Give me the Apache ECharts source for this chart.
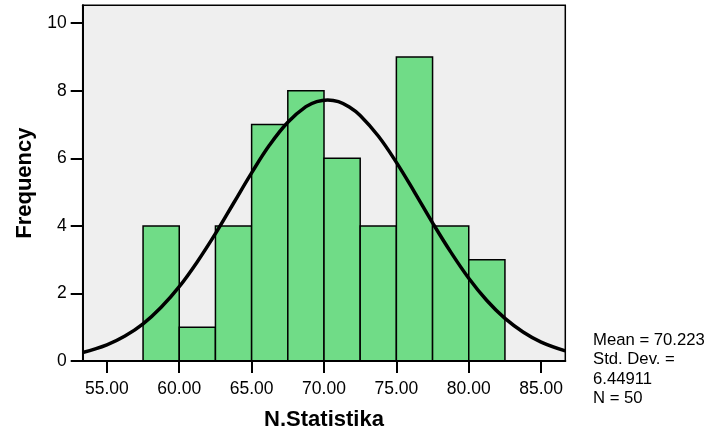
<!DOCTYPE html>
<html>
<head>
<meta charset="utf-8">
<script src="https://cdn.jsdelivr.net/npm/echarts@6/dist/echarts.min.js"></script>
<style>
  html, body { margin: 0; padding: 0; background: #fff; }
  #chart { width: 709px; height: 436px; }
</style>
</head>
<body>
<div id="chart"></div>
<script>
// histogram bins (width 2.5) and their counts
const binStarts = [57.5, 60, 62.5, 65, 67.5, 70, 72.5, 75, 77.5, 80]
const binWidth = 2.5
const counts = [4, 1, 4, 7, 8, 6, 4, 9, 4, 3]

// normal curve
const curveX = [53.33, 55, 56.25, 57.5, 58.75, 60, 61.25, 62.5, 63.75, 65, 66.25, 67.5, 68.75, 69.5, 70.25,
  71, 71.75, 72.5, 73.75, 75, 76.25, 77.5, 78.75, 80, 81.25, 82.5, 83.75, 85, 86.67]
const curveY = [0.25, 0.48, 0.74, 1.10, 1.59, 2.20, 2.94, 3.77, 4.67, 5.57, 6.40, 7.07, 7.53, 7.68, 7.73,
  7.68, 7.52, 7.27, 6.66, 5.88, 5.00, 4.09, 3.23, 2.45, 1.79, 1.26, 0.86, 0.56, 0.30]

const xTicks = [55, 60, 65, 70, 75, 80, 85]
const yTicks = [0, 2, 4, 6, 8, 10]
const statsText = ['Mean = 70.223', 'Std. Dev. =', '6.44911', 'N = 50']

const font = 'Liberation Sans, Arial, Helvetica, sans-serif'

const chart = echarts.init(document.getElementById('chart'))

const option = {
  animation: false,
  grid: {
    left: 82.7,
    top: 5.3,
    right: 143.7,
    bottom: 73.3,
    show: true,
    backgroundColor: '#efefef',
    borderColor: '#000',
    borderWidth: 1.5
  },
  xAxis: {
    type: 'value',
    min: 53.33,
    max: 86.67,
    name: 'N.Statistika',
    nameLocation: 'middle',
    nameGap: 48,
    nameTextStyle: { fontFamily: font, fontSize: 22, fontWeight: 'bold', color: '#000' },
    axisLine: { show: true, onZero: false, lineStyle: { color: '#000', width: 2 } },
    axisTick: { show: true, inside: false, length: 12, lineStyle: { color: '#000', width: 2 }, customValues: xTicks },
    axisLabel: {
      customValues: xTicks,
      margin: 19,
      fontFamily: font,
      fontSize: 17.5,
      color: '#000',
      formatter: (v) => v.toFixed(2)
    },
    splitLine: { show: false },
    z: 10
  },
  yAxis: {
    type: 'value',
    min: 0,
    max: 10.53,
    name: 'Frequency',
    nameLocation: 'middle',
    nameGap: 47,
    nameRotate: 90,
    nameTextStyle: { fontFamily: font, fontSize: 22, fontWeight: 'bold', color: '#000' },
    axisLine: { show: true, onZero: false, lineStyle: { color: '#000', width: 2 } },
    axisTick: { show: true, inside: false, length: 12, lineStyle: { color: '#000', width: 2 }, customValues: yTicks },
    axisLabel: {
      customValues: yTicks,
      margin: 16,
      fontFamily: font,
      fontSize: 17.5,
      color: '#000'
    },
    splitLine: { show: false },
    z: 10
  },
  series: [
    {
      type: 'custom',
      data: binStarts.map((s, i) => [s, s + binWidth, counts[i]]),
      renderItem: function (params, api) {
        const p1 = api.coord([api.value(0), api.value(2)])
        const p2 = api.coord([api.value(1), 0])
        return {
          type: 'rect',
          shape: { x: p1[0], y: p1[1], width: p2[0] - p1[0], height: p2[1] - p1[1] },
          style: { fill: '#70dc87', stroke: '#000', lineWidth: 1.5 }
        }
      },
      z: 2
    },
    {
      type: 'line',
      data: curveX.map((x, i) => [x, curveY[i]]),
      smooth: 0.4,
      showSymbol: false,
      lineStyle: { color: '#000', width: 3.5 },
      z: 3
    }
  ],
  graphic: [
    {
      type: 'text',
      left: 593,
      top: 331,
      style: {
        text: statsText.join('\n'),
        font: '16.7px ' + font,
        fill: '#000',
        lineHeight: 19.2
      }
    }
  ]
}

chart.setOption(option)
</script>
</body>
</html>
